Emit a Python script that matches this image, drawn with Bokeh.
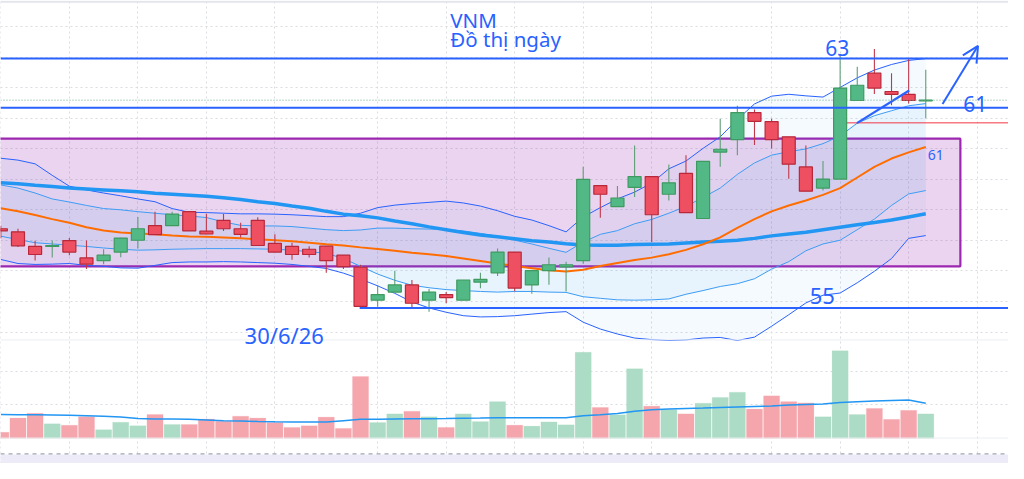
from bokeh.plotting import figure
from bokeh.models import (Range1d, FixedTicker, Grid, Span, ColumnDataSource,
                          Label, Arrow, OpenHead)
from bokeh.embed import file_html
from bokeh.resources import INLINE

# ---------------- data (daily candles, price in thousand VND) ----------------
open_ = [57.55, 57.45, 56.98, 56.98, 57.17, 56.61, 56.52, 56.80, 57.18, 57.65,
         57.65, 58.10, 57.47, 57.82, 57.55, 57.82, 57.08, 56.98, 56.89, 56.99,
         56.70, 56.31, 55.25, 55.51, 55.74, 55.25, 55.43, 55.25, 55.83, 56.13,
         56.80, 55.74, 56.20, 56.32, 56.52, 58.94, 58.26, 58.88, 59.23, 58.66,
         59.33, 57.88, 60.02, 60.42, 61.29, 61.00, 60.51, 59.54, 58.86, 59.15,
         61.68, 62.56, 61.97, 61.88, 61.67]
high = [57.65, 57.55, 57.16, 57.17, 57.25, 57.17, 56.89, 57.26, 57.93, 58.10,
        58.10, 58.10, 58.03, 58.03, 57.74, 57.92, 57.37, 57.10, 56.99, 56.99,
        56.70, 56.39, 55.74, 56.20, 55.90, 55.61, 55.51, 55.90, 56.13, 56.91,
        56.80, 56.20, 56.62, 56.49, 59.55, 58.94, 58.93, 60.23, 59.23, 59.62,
        59.92, 59.72, 61.09, 61.51, 61.39, 61.09, 60.51, 60.23, 59.73, 63.16,
        62.77, 63.34, 62.56, 63.05, 62.67]
low = [57.24, 56.96, 56.53, 56.62, 56.70, 56.25, 56.41, 56.63, 56.91, 57.36,
       57.64, 57.48, 57.37, 57.48, 57.27, 57.01, 56.80, 56.55, 56.62, 56.13,
       56.25, 54.99, 55.04, 55.51, 54.99, 54.88, 55.15, 55.25, 55.63, 56.03,
       55.54, 55.46, 55.75, 55.53, 56.42, 57.90, 58.26, 58.57, 57.12, 58.46,
       58.06, 57.88, 59.55, 59.92, 60.25, 60.13, 59.16, 58.76, 58.78, 59.15,
       61.68, 61.89, 61.53, 61.58, 61.11]
close = [57.48, 57.00, 56.72, 57.01, 56.80, 56.41, 56.70, 57.25, 57.55, 57.36,
         58.02, 57.48, 57.38, 57.55, 57.37, 57.01, 56.80, 56.72, 56.72, 56.52,
         56.33, 55.05, 55.43, 55.74, 55.15, 55.51, 55.33, 55.90, 55.92, 56.80,
         55.64, 56.20, 56.39, 56.39, 59.14, 58.66, 58.54, 59.23, 58.00, 59.03,
         58.07, 59.72, 60.11, 61.29, 61.01, 60.42, 59.63, 58.76, 59.15, 62.08,
         62.17, 62.08, 61.88, 61.68, 61.69]
volume = [19, 63, 78, 45, 41, 67, 27, 50, 39, 74,
          43, 43, 60, 53, 69, 63, 49, 34, 39, 66,
          31, 192, 49, 76, 84, 67, 34, 76, 52, 114,
          41, 38, 51, 42, 267, 96, 73, 216, 100, 89,
          76, 109, 127, 143, 91, 132, 114, 110, 67, 272,
          74, 93, 59, 87, 76]
vol_ma = [74, 73.5, 73, 72.5, 72, 70.5, 69, 66, 62, 60.5,
          60, 59, 57, 55, 54, 52.5, 51.5, 51, 51, 51,
          55, 59, 59, 60, 61, 61, 61.5, 62.5, 63, 64,
          64, 64, 64, 64, 70.5, 73.5, 77, 84, 89, 91.5,
          93, 94, 96, 97.5, 99, 100.5, 103.5, 105, 106.5, 111,
          114, 116, 117.5, 119, 109]
ma20 = [58.21, 58.11, 57.99, 57.86, 57.74, 57.60, 57.49, 57.43, 57.40, 57.37,
        57.33, 57.30, 57.29, 57.27, 57.24, 57.21, 57.18, 57.15, 57.10, 57.05,
        57.01, 56.95, 56.90, 56.84, 56.78, 56.73, 56.67, 56.59, 56.51, 56.43,
        56.35, 56.28, 56.21, 56.17, 56.23, 56.35, 56.45, 56.54, 56.62, 56.73,
        56.87, 57.05, 57.27, 57.58, 57.86, 58.11, 58.30, 58.46, 58.64, 58.86,
        59.20, 59.54, 59.81, 60.01, 60.18]
ma50 = [59.03, 59.00, 58.95, 58.91, 58.86, 58.83, 58.80, 58.77, 58.74, 58.69,
        58.66, 58.63, 58.60, 58.55, 58.49, 58.42, 58.36, 58.28, 58.21, 58.11,
        58.02, 57.97, 57.90, 57.80, 57.71, 57.61, 57.52, 57.43, 57.35, 57.29,
        57.23, 57.16, 57.12, 57.07, 57.03, 57.02, 57.02, 57.04, 57.05, 57.06,
        57.09, 57.12, 57.15, 57.18, 57.24, 57.32, 57.38, 57.44, 57.52, 57.60,
        57.68, 57.75, 57.83, 57.93, 58.03]
bb_upper = [59.82, 59.76, 59.64, 59.27, 58.92, 58.80, 58.70, 58.61, 58.51, 58.42,
            58.20, 58.08, 58.07, 58.05, 58.03, 58.03, 58.02, 58.00, 57.97, 57.94,
            57.94, 58.05, 58.23, 58.31, 58.36, 58.40, 58.44, 58.38, 58.28, 58.13,
            57.95, 57.83, 57.65, 57.45, 57.93, 58.23, 58.51, 58.73, 59.02, 59.48,
            59.73, 60.14, 60.51, 61.07, 61.57, 61.82, 61.88, 61.83, 61.79, 62.10,
            62.41, 62.66, 62.84, 62.97, 63.03]
bb_lower = [56.56, 56.43, 56.40, 56.41, 56.43, 56.37, 56.34, 56.29, 56.28, 56.37,
            56.46, 56.48, 56.48, 56.49, 56.48, 56.46, 56.44, 56.40, 56.34, 56.27,
            56.12, 55.93, 55.71, 55.47, 55.19, 55.00, 54.86, 54.75, 54.71, 54.72,
            54.75, 54.80, 54.85, 54.88, 54.54, 54.32, 54.16, 54.03, 53.98, 53.95,
            53.97, 54.03, 54.05, 53.95, 54.06, 54.41, 54.78, 55.16, 55.41, 55.48,
            55.81, 56.18, 56.59, 57.24, 57.33]
bb_inner_upper = [58.96, 58.86, 58.70, 58.51, 58.41, 58.30, 58.20, 58.16, 58.10, 58.05,
                  58.00, 57.96, 57.91, 57.77, 57.66, 57.64, 57.64, 57.62, 57.57, 57.52,
                  57.49, 57.51, 57.57, 57.57, 57.55, 57.54, 57.52, 57.48, 57.40, 57.31,
                  57.18, 57.06, 56.92, 56.79, 57.12, 57.37, 57.49, 57.71, 57.85, 58.05,
                  58.27, 58.56, 58.86, 59.30, 59.67, 59.92, 60.03, 60.12, 60.29, 60.54,
                  60.95, 61.19, 61.35, 61.51, 61.58]
bb_inner_lower = [57.31, 57.20, 57.10, 57.06, 57.02, 56.98, 56.93, 56.89, 56.86, 56.87,
                  56.89, 56.90, 56.91, 56.91, 56.91, 56.90, 56.89, 56.86, 56.81, 56.76,
                  56.59, 56.34, 56.09, 55.89, 55.73, 55.65, 55.59, 55.56, 55.53, 55.51,
                  55.53, 55.53, 55.51, 55.50, 55.36, 55.31, 55.26, 55.25, 55.26, 55.29,
                  55.44, 55.56, 55.69, 55.78, 55.94, 56.25, 56.49, 56.84, 57.06, 57.18,
                  57.52, 57.86, 58.30, 58.67, 58.78]

# drawn levels / annotations (bar index, price)
level_63 = 63.03
level_61 = 61.45
level_55 = 55.00
level_55_start = 20.95
ref_line_price = 60.96
ref_line_start = 49.4
zone_top, zone_bottom, zone_right = 60.45, 56.34, 56.02
trend_x, trend_y = [49.98, 53.03], [60.95, 62.00]
arrow_x, arrow_y = [54.98, 57.05], [61.57, 63.44]
grid_x = [0, 4, 8, 12, 16, 22, 26, 30, 34, 38, 45, 49, 53, 57]
grid_y = [64.06, 63.08, 62.09, 61.11, 60.12, 59.14, 58.16, 57.17, 56.19,
          55.20, 54.22, 52.94, 51.88]

# ---------------- figure ----------------
x = list(range(len(close)))
inc = [c >= o for o, c in zip(open_, close)]

p = figure(width=1008, height=463, output_backend="svg", toolbar_location=None,
           x_range=Range1d(-0.02, 58.83), y_range=Range1d(49.99, 64.90),
           x_axis_location=None, y_axis_location=None, min_border=0,
           outline_line_color=None, background_fill_color="white")
p.extra_y_ranges = {"vol": Range1d(-78, 1359)}
for g in list(p.grid):
    g.visible = False

p.add_layout(Grid(dimension=0, ticker=FixedTicker(ticks=grid_x),
                  grid_line_color="#d9dce1", grid_line_dash="2 3"))
p.add_layout(Grid(dimension=1, ticker=FixedTicker(ticks=grid_y),
                  grid_line_color="#d9dce1", grid_line_dash="2 3"))

# bottom pane strip
p.quad(left=-5, right=70, bottom=49.0, top=50.28, fill_color="#eeebf9",
       line_color=None)

# purple zone
p.quad(left=-2, right=zone_right, bottom=zone_bottom, top=zone_top,
       fill_color="#9c27b0", fill_alpha=0.2, line_color="#9c27b0",
       line_width=2.2)

# Bollinger fills
p.varea(x=x, y1=bb_lower, y2=bb_upper, fill_color="#2196f3", fill_alpha=0.05)
p.varea(x=x, y1=bb_inner_lower, y2=bb_inner_upper, fill_color="#2196f3",
        fill_alpha=0.06)

# volume
vsrc = ColumnDataSource(dict(
    x=x, v=volume,
    c=["#acdcc5" if u else "#f5a6ad" for u in inc]))
p.vbar(x="x", width=0.94, top="v", bottom=0, fill_color="c", line_color="c",
       line_alpha=0.4, line_width=0.5, source=vsrc, y_range_name="vol")
p.line(x, vol_ma, y_range_name="vol", line_color="#2196f3", line_width=1.5)

# indicator lines
p.line(x, bb_upper, line_color="#2962ff", line_width=1)
p.line(x, bb_lower, line_color="#2962ff", line_width=1)
p.line(x, bb_inner_upper, line_color="#3d9cf5", line_width=1)
p.line(x, bb_inner_lower, line_color="#3d9cf5", line_width=1)
p.line(x, ma50, line_color="#2196f3", line_width=3.5)
p.line(x, ma20, line_color="#ff6d00", line_width=2)

# candles
csrc = ColumnDataSource(dict(
    x=x, high=high, low=low,
    top=[max(o, c) for o, c in zip(open_, close)],
    bottom=[min(o, c) for o, c in zip(open_, close)],
    fill=["#52b886" if u else "#ee5061" for u in inc],
    line=["#3f9a60" if u else "#b8283a" for u in inc],
    wick=["#5d9e76" if u else "#c0394b" for u in inc]))
p.segment(x0="x", y0="low", x1="x", y1="high", line_color="wick",
          line_width=1.1, source=csrc)
p.vbar(x="x", width=0.76, top="top", bottom="bottom", fill_color="fill",
       line_color="line", line_width=1.2, source=csrc)

# levels
p.add_layout(Span(location=64.86, dimension="width", line_color="#e3e5ea",
                  line_width=2))
p.add_layout(Span(location=53.97, dimension="width", line_color="#eceef2",
                  line_width=1))
p.add_layout(Span(location=50.81, dimension="width", line_color="#eceef2",
                  line_width=1))
p.add_layout(Span(location=50.30, dimension="width", line_color="#a3a6ae",
                  line_width=1.2, line_dash="4 4"))
p.add_layout(Span(location=close[-1], dimension="width", line_color="#6aa98c",
                  line_width=1, line_dash="1 2"))
p.add_layout(Span(location=level_63, dimension="width", line_color="#2962ff",
                  line_width=2))
p.add_layout(Span(location=level_61, dimension="width", line_color="#2962ff",
                  line_width=2))
p.segment(x0=[level_55_start], y0=[level_55], x1=[70], y1=[level_55],
          line_color="#2962ff", line_width=2)
p.segment(x0=[ref_line_start], y0=[ref_line_price], x1=[70],
          y1=[ref_line_price], line_color="#f23645", line_width=1)

# trend line and arrow
p.line(trend_x, trend_y, line_color="#2962ff", line_width=2.2)
p.add_layout(Arrow(end=OpenHead(size=16, line_color="#2962ff", line_width=2),
                   x_start=arrow_x[0], y_start=arrow_y[0],
                   x_end=arrow_x[1], y_end=arrow_y[1],
                   line_color="#2962ff", line_width=2))

# texts
def lab(xv, yv, t, size, align="left"):
    p.add_layout(Label(x=xv, y=yv, text=t, text_font="Noto Sans",
                       text_font_size=size, text_color="#2962ff",
                       text_align=align, text_baseline="alphabetic"))

lab(26.24, 64.28, "VNM", "20.5px")
lab(26.24, 63.66, "Đồ thị ngày", "20.5px")
lab(48.83, 63.37, "63", "21px", "center")
lab(56.19, 61.57, "61", "21px")
lab(47.22, 55.37, "55", "22px")
lab(14.23, 54.13, "30/6/26", "22px")
lab(54.12, 59.92, "61", "14px")

open("out.html", "w").write(file_html(p, INLINE))
